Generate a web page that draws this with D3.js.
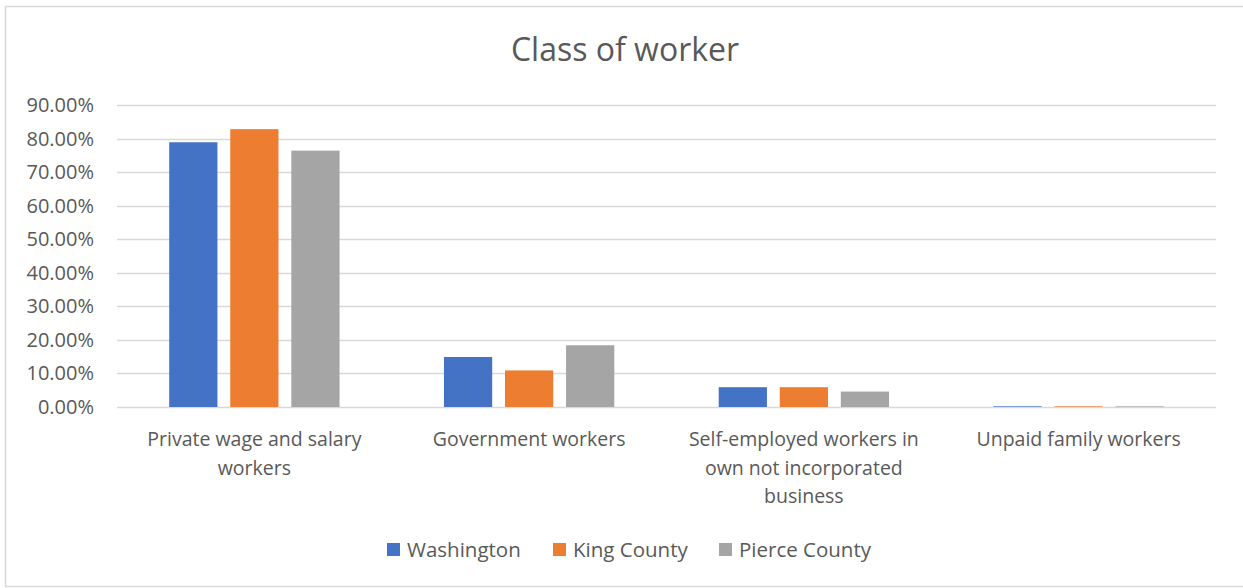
<!DOCTYPE html>
<html>
<head>
<meta charset="utf-8">
<script src="https://cdn.jsdelivr.net/npm/d3@7"></script>
<style>
  body { margin: 0; background: #fff; }
  text { font-family: "Open Sans", Lato, sans-serif; fill: #595959; }
</style>
</head>
<body>
<div id="chart"></div>
<script>
const categories = ['Private wage and salary workers', 'Government workers',
  'Self-employed workers in own not incorporated business', 'Unpaid family workers'];
const seriesNames = ['Washington', 'King County', 'Pierce County'];
const washington = [0.789, 0.149, 0.059, 0.002];
const kingCounty = [0.828, 0.109, 0.059, 0.002];
const pierceCounty = [0.764, 0.184, 0.046, 0.002];
const yTicks = [0, 0.1, 0.2, 0.3, 0.4, 0.5, 0.6, 0.7, 0.8, 0.9];
const colors = ['#4472C4', '#ED7D31', '#A5A5A5'];

const W = 1243, H = 588;
const margin = { top: 105, right: 27, bottom: 181, left: 117 };
const values = [washington, kingCounty, pierceCounty];

const svg = d3.select('#chart').append('svg')
  .attr('width', W)
  .attr('height', H);

// chart frame
svg.append('rect')
  .attr('x', 5.5).attr('y', 6.5)
  .attr('width', W + 10).attr('height', H - 8)
  .attr('fill', 'none')
  .attr('stroke', '#D9D9D9')
  .attr('stroke-width', 1.5);

const y = d3.scaleLinear()
  .domain([0, 0.9])
  .range([H - margin.bottom, margin.top]);

const x0 = d3.scaleBand()
  .domain(categories)
  .range([margin.left, W - margin.right])
  .padding(0);

const bw = x0.bandwidth();
const x1 = d3.scaleBand()
  .domain(seriesNames)
  .range([bw * 0.19, bw * 0.81])
  .paddingInner(0.21);

// gridlines
svg.append('g')
  .selectAll('line')
  .data(yTicks)
  .join('line')
  .attr('x1', margin.left)
  .attr('x2', W - margin.right)
  .attr('y1', d => Math.round(y(d)) + 0.5)
  .attr('y2', d => Math.round(y(d)) + 0.5)
  .attr('stroke', '#D9D9D9')
  .attr('stroke-width', 1.3);

// y tick labels
svg.append('g')
  .selectAll('text')
  .data(yTicks)
  .join('text')
  .attr('x', 94)
  .attr('y', d => y(d) + 7)
  .attr('text-anchor', 'end')
  .attr('font-size', '20px')
  .text(d => d3.format('.2%')(d));

// bars
const groups = svg.append('g')
  .selectAll('g')
  .data(categories)
  .join('g')
  .attr('transform', d => `translate(${x0(d)},0)`);

groups.selectAll('rect')
  .data((d, i) => seriesNames.map((s, j) => ({ s, v: values[j][i], c: colors[j] })))
  .join('rect')
  .attr('x', d => x1(d.s))
  .attr('width', x1.bandwidth())
  .attr('y', d => y(d.v))
  .attr('height', d => y(0) - y(d.v))
  .attr('fill', d => d.c);

// category labels, wrapped like Excel does
const labels = svg.append('g')
  .selectAll('text')
  .data(categories)
  .join('text')
  .attr('text-anchor', 'middle')
  .attr('font-size', '19.5px')
  .attr('x', d => x0(d) + bw / 2)
  .attr('y', 446);

labels.each(function(d) {
  const t = d3.select(this);
  const words = d.split(' ');
  let line = [];
  let tspan = t.append('tspan').attr('x', x0(d) + bw / 2).attr('dy', 0);
  words.forEach(w => {
    line.push(w);
    tspan.text(line.join(' '));
    if (tspan.node().getComputedTextLength() > 250 && line.length > 1) {
      line.pop();
      tspan.text(line.join(' '));
      line = [w];
      tspan = t.append('tspan').attr('x', x0(d) + bw / 2).attr('dy', 28.5).text(w);
    }
  });
});

// title
svg.append('text')
  .attr('x', 625)
  .attr('y', 61)
  .attr('text-anchor', 'middle')
  .attr('font-size', '32px')
  .text('Class of worker');

// legend
const legendX = [387, 553, 719];
const legend = svg.append('g')
  .selectAll('g')
  .data(seriesNames)
  .join('g')
  .attr('transform', (d, i) => `translate(${legendX[i]},543)`);

legend.append('rect')
  .attr('width', 13).attr('height', 13)
  .attr('fill', (d, i) => colors[i]);

legend.append('text')
  .attr('x', 20)
  .attr('y', 13.5)
  .attr('font-size', '20.5px')
  .text(d => d);
</script>
</body>
</html>
